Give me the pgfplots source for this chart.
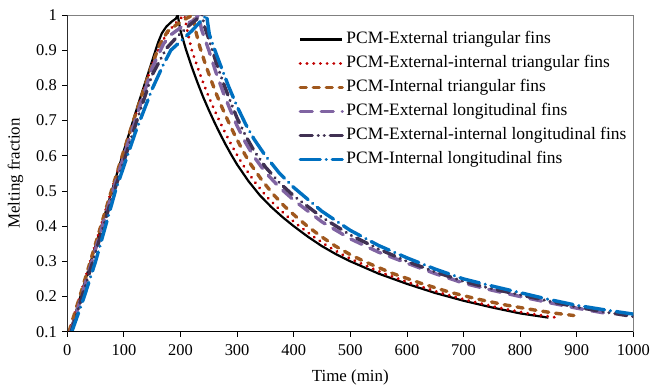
\documentclass[border=0pt]{standalone}
\usepackage{fontspec}
\setmainfont{Liberation Serif}
\usepackage{pgfplots}
\pgfplotsset{compat=1.18}
\definecolor{cRed}{RGB}{192,0,0}
\definecolor{cBrown}{RGB}{160,88,30}
\definecolor{cLPur}{RGB}{128,100,162}
\definecolor{cDPur}{RGB}{64,49,82}
\definecolor{cBlue}{RGB}{0,112,192}
\begin{document}
\begin{tikzpicture}
\begin{axis}[
  scale only axis, width=566bp, height=316.7bp,
  xmin=0, xmax=1000, ymin=0.1, ymax=1,
  xtick={0,100,...,1000},
  ytick={0.1,0.2,0.3,0.4,0.5,0.6,0.7,0.8,0.9,1},
  /pgf/number format/1000 sep={},
  /pgf/number format/assume math mode=true,
  tick pos=left, tick align=outside,
  major tick length=5bp,
  tick style={black, line width=0.8bp},
  axis line style={draw=gray, line width=0.8bp},
  ticklabel style={font=\fontsize{16.5}{19}\selectfont},
  xticklabel style={yshift=-4bp},
  yticklabel style={xshift=-2bp},
  label style={font=\fontsize{17}{20}\selectfont},
  xlabel={Time (min)}, ylabel={Melting fraction},
  xlabel style={yshift=-8bp},
  ylabel style={yshift=6bp},
  legend cell align=left,
  legend style={at={(rel axis cs:0.403,0.955)}, anchor=north west, draw=none, fill=none,
     font=\fontsize{17.5}{20}\selectfont, row sep=8bp,
     nodes={inner xsep=2.5bp, inner ysep=0bp, text height=12bp, text depth=4bp}},
  legend image code/.code={\draw[#1] (0bp,0bp) -- (42bp,0bp);},
  clip=true,
]
\coordinate (O) at (rel axis cs:0,0);
\addplot[black, line width=2.2bp] coordinates {
(5,0.1) (25,0.21) (50,0.345) (75,0.48) (100,0.615) (125,0.745) (150,0.87) (160,0.92) (167,0.948) (175,0.967) (185,0.982) (192,0.99) (195,1.0)
(200,0.955) (210,0.90) (220,0.852) (230,0.808) (240,0.767) (250,0.73) (260,0.695) (270,0.662) (280,0.631) (290,0.602) (300,0.575) (320,0.528) (340,0.488) (360,0.455) (380,0.426) (400,0.40) (425,0.37) (450,0.343) (475,0.32) (500,0.30) (550,0.265) (600,0.236) (650,0.21) (700,0.188) (750,0.169) (800,0.152) (850,0.14)
};
\addlegendentry{PCM-External triangular fins}
\addplot[cRed, line width=3.2bp, line cap=round, dash pattern=on 0.01bp off 6.7bp] coordinates {
(3,0.1) (25,0.215) (50,0.35) (75,0.485) (100,0.612) (125,0.738) (150,0.86) (163,0.91) (175,0.945) (190,0.975) (200,0.99) (207,1.0)
(212,0.955) (220,0.90) (230,0.852) (240,0.808) (250,0.767) (260,0.73) (270,0.695) (280,0.662) (290,0.631) (300,0.602) (310,0.575) (330,0.528) (350,0.488) (370,0.455) (390,0.426) (410,0.40) (435,0.37) (460,0.343) (485,0.32) (510,0.30) (560,0.265) (610,0.236) (660,0.21) (710,0.188) (760,0.169) (810,0.153) (865,0.14)
};
\addlegendentry{PCM-External-internal triangular fins}
\addplot[cBrown, line width=3.4bp, line cap=round, dash pattern=on 6bp off 7bp] coordinates {
(3,0.1) (25,0.215) (50,0.35) (75,0.485) (100,0.615) (125,0.74) (150,0.86) (163,0.915) (177,0.953) (195,0.975) (210,0.99) (222,1.0)
(226,0.96) (234,0.91) (244,0.86) (254,0.815) (264,0.773) (274,0.735) (284,0.699) (294,0.665) (304,0.633) (314,0.603) (324,0.576) (344,0.53) (364,0.49) (384,0.456) (404,0.427) (424,0.40) (449,0.37) (474,0.343) (499,0.32) (524,0.30) (574,0.266) (624,0.238) (674,0.213) (724,0.193) (774,0.176) (824,0.162) (860,0.153) (895,0.146)
};
\addlegendentry{PCM-Internal triangular fins}
\addplot[cLPur, line width=3.4bp, line cap=round, dash pattern=on 12bp off 9bp] coordinates {
(6,0.1) (25,0.2) (50,0.335) (75,0.47) (100,0.6) (125,0.725) (150,0.85) (170,0.918) (184,0.945) (205,0.97) (225,0.986) (232,1.0)
(237,0.96) (250,0.90) (262,0.84) (275,0.782) (288,0.73) (300,0.685) (315,0.637) (330,0.597) (350,0.553) (375,0.51) (400,0.474) (450,0.412) (500,0.364) (550,0.326) (600,0.295) (650,0.265) (700,0.238) (750,0.218) (800,0.20) (850,0.183) (900,0.167) (960,0.15)
};
\addlegendentry{PCM-External longitudinal fins}
\addplot[cDPur, line width=3.4bp, line cap=round, dash pattern=on 12bp off 6bp on 0.01bp off 6bp on 0.01bp off 6bp] coordinates {
(7,0.1) (25,0.195) (50,0.325) (75,0.46) (100,0.585) (125,0.71) (150,0.83) (175,0.905) (195,0.94) (215,0.97) (238,1.0)
(243,0.965) (250,0.932) (262,0.87) (275,0.81) (288,0.755) (300,0.707) (315,0.657) (330,0.614) (350,0.568) (375,0.523) (400,0.486) (450,0.425) (500,0.375) (550,0.335) (600,0.30) (650,0.27) (700,0.243) (750,0.222) (800,0.205) (850,0.187) (900,0.17) (950,0.156) (1000,0.143)
};
\addlegendentry{PCM-External-internal longitudinal fins}
\addplot[cBlue, line width=3.4bp, line cap=round, dash pattern=on 20bp off 6bp on 0.01bp off 6bp] coordinates {
(8,0.1) (30,0.2) (50,0.3) (85,0.5) (120,0.665) (150,0.79) (170,0.86) (183,0.9) (200,0.925) (220,0.955) (246,1.0)
(251,0.945) (260,0.903) (270,0.86) (285,0.797) (300,0.74) (315,0.69) (330,0.647) (350,0.6) (375,0.55) (400,0.51) (450,0.442) (500,0.388) (550,0.345) (600,0.31) (650,0.278) (700,0.25) (750,0.23) (800,0.211) (850,0.192) (900,0.175) (950,0.162) (1000,0.15)
};
\addlegendentry{PCM-Internal longitudinal fins}
\draw[black, line width=1.5bp] (rel axis cs:0,1) -- (rel axis cs:0,0) -- (rel axis cs:1,0);
\end{axis}
\pgfresetboundingbox
\path (O) ++(-67.3bp,-59.3bp) rectangle ++(654bp,391bp);
\end{tikzpicture}
\end{document}
